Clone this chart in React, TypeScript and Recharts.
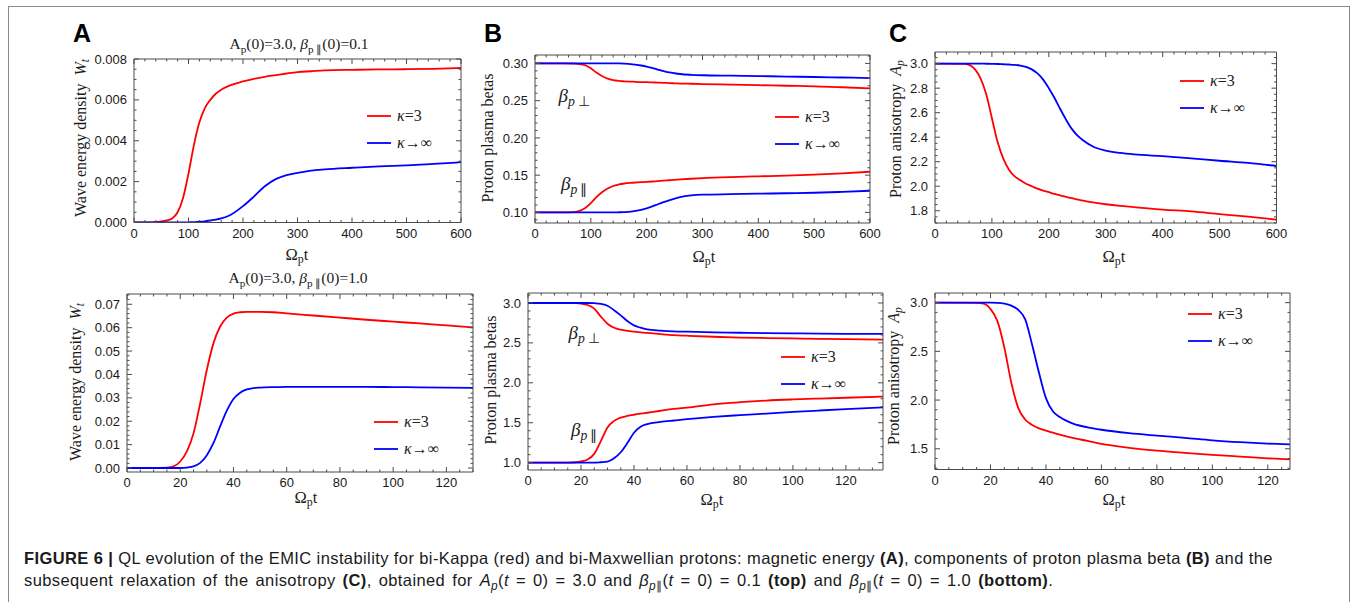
import React from 'react';
import { LineChart, Line, XAxis, YAxis, Legend } from 'recharts';

const RED = '#ff0000';
const BLUE = '#0000ff';
const FRAME = '#4a4a4a';
const SERIF = '"Liberation Serif","Times New Roman",serif';
const SANS = '"Liberation Sans",Arial,Helvetica,sans-serif';

// ---------- Panel A (top): wave energy density, beta_par(0)=0.1
const tA1 = [0, 40, 60, 70, 80, 90, 100, 110, 120, 130, 140, 150, 160, 175, 200, 220, 240, 260, 280, 300, 325, 350, 400, 450, 500, 550, 600];
const wKappaA1 = [0, 0.00002, 0.0001, 0.0002, 0.0005, 0.0012, 0.0024, 0.0038, 0.0049, 0.0056, 0.006, 0.0063, 0.0065, 0.0067, 0.0069, 0.00703, 0.00713, 0.00721, 0.00729, 0.00736, 0.0074, 0.00744, 0.00747, 0.00749, 0.0075, 0.00752, 0.00756];
const wMaxA1 = [0, 0, 0, 0, 0, 0, 0.00001, 0.00002, 0.00004, 0.00006, 0.0001, 0.00014, 0.0002, 0.00034, 0.0008, 0.00127, 0.00177, 0.00212, 0.00232, 0.00243, 0.00254, 0.0026, 0.00268, 0.00275, 0.0028, 0.00287, 0.00295];

// ---------- Panel B (top): proton plasma betas
const tB1 = [0, 50, 70, 80, 90, 100, 110, 120, 130, 140, 150, 160, 175, 190, 200, 210, 220, 230, 240, 250, 260, 280, 300, 350, 400, 450, 500, 550, 600];
const perpKappaB1 = [0.3, 0.3, 0.2998, 0.2992, 0.2975, 0.2935, 0.2878, 0.283, 0.2795, 0.2775, 0.2765, 0.276, 0.2755, 0.275, 0.2748, 0.2745, 0.2742, 0.274, 0.2736, 0.2733, 0.273, 0.2727, 0.2723, 0.2715, 0.2708, 0.27, 0.2693, 0.268, 0.2664];
const perpMaxB1 = [0.3, 0.3, 0.3, 0.3, 0.3, 0.3, 0.3, 0.3, 0.3, 0.3, 0.3, 0.2998, 0.2988, 0.2972, 0.2958, 0.294, 0.2918, 0.2897, 0.288, 0.2868, 0.2858, 0.2847, 0.2841, 0.2835, 0.283, 0.2824, 0.2818, 0.2811, 0.2803];
const parKappaB1 = [0.1, 0.1, 0.1005, 0.1022, 0.106, 0.1125, 0.1205, 0.127, 0.132, 0.1355, 0.1375, 0.1388, 0.1398, 0.1406, 0.141, 0.1415, 0.1421, 0.1426, 0.1432, 0.1438, 0.1443, 0.1452, 0.146, 0.1474, 0.1484, 0.1494, 0.1508, 0.1525, 0.1546];
const parMaxB1 = [0.1, 0.1, 0.1, 0.1, 0.1, 0.1, 0.1, 0.1, 0.1, 0.1, 0.1002, 0.1005, 0.1015, 0.1035, 0.1055, 0.108, 0.111, 0.1138, 0.1163, 0.1185, 0.1205, 0.1228, 0.1238, 0.1245, 0.1251, 0.1257, 0.1264, 0.1276, 0.1291];

// ---------- Panel C (top): proton anisotropy
const tC1 = [0, 50, 60, 70, 80, 90, 100, 110, 120, 130, 140, 150, 160, 170, 180, 190, 200, 210, 220, 230, 240, 250, 260, 280, 300, 325, 350, 400, 450, 500, 550, 600];
const aKappaC1 = [3.0, 2.998, 2.99, 2.955, 2.88, 2.75, 2.555, 2.36, 2.225, 2.135, 2.08, 2.048, 2.02, 2.0, 1.98, 1.965, 1.951, 1.937, 1.925, 1.913, 1.902, 1.892, 1.882, 1.866, 1.853, 1.84, 1.83, 1.809, 1.795, 1.773, 1.752, 1.727];
const aMaxC1 = [3.0, 3.0, 3.0, 3.0, 3.0, 2.999, 2.998, 2.997, 2.995, 2.993, 2.99, 2.984, 2.973, 2.953, 2.92, 2.87, 2.8, 2.72, 2.63, 2.545, 2.47, 2.415, 2.375, 2.318, 2.29, 2.272, 2.26, 2.245, 2.228, 2.208, 2.19, 2.165];

// ---------- Panel A (bottom): beta_par(0)=1.0
const tA2 = [0, 10, 15, 17.5, 20, 22.5, 25, 27.5, 30, 32.5, 35, 37.5, 40, 42.5, 45, 47.5, 50, 55, 60, 70, 80, 90, 100, 110, 120, 130];
const wKappaA2 = [0, 0, 0.0002, 0.0007, 0.0028, 0.0071, 0.0149, 0.0277, 0.042, 0.0534, 0.0605, 0.0643, 0.066, 0.0666, 0.0668, 0.0668, 0.0668, 0.0666, 0.0661, 0.0652, 0.0643, 0.0634, 0.0626, 0.0618, 0.061, 0.0601];
const wMaxA2 = [0, 0, 0, 0, 0, 0.0002, 0.0007, 0.0022, 0.0055, 0.0107, 0.0178, 0.0245, 0.0295, 0.0322, 0.0336, 0.0342, 0.0344, 0.0346, 0.0347, 0.0347, 0.0347, 0.0347, 0.0346, 0.0345, 0.0344, 0.0343];

// ---------- Panel B (bottom)
const tB2 = [0, 15, 18, 20, 22.5, 25, 27.5, 30, 32.5, 35, 37.5, 40, 42.5, 45, 50, 55, 60, 70, 80, 90, 100, 110, 120, 134];
const perpKappaB2 = [3.0, 3.0, 2.998, 2.993, 2.975, 2.93, 2.83, 2.74, 2.69, 2.665, 2.65, 2.64, 2.632, 2.625, 2.61, 2.597, 2.59, 2.577, 2.567, 2.561, 2.556, 2.551, 2.547, 2.541];
const perpMaxB2 = [3.0, 3.0, 3.0, 3.0, 3.0, 2.997, 2.99, 2.965, 2.91, 2.845, 2.775, 2.72, 2.69, 2.67, 2.655, 2.645, 2.64, 2.632, 2.627, 2.622, 2.619, 2.616, 2.614, 2.612];
const parKappaB2 = [1.0, 1.0, 1.005, 1.015, 1.04, 1.11, 1.27, 1.44, 1.523, 1.565, 1.585, 1.6, 1.613, 1.625, 1.65, 1.673, 1.69, 1.73, 1.757, 1.778, 1.792, 1.803, 1.813, 1.827];
const parMaxB2 = [1.0, 1.0, 1.0, 1.0, 1.0, 1.0, 1.005, 1.013, 1.055, 1.13, 1.245, 1.375, 1.45, 1.483, 1.51, 1.528, 1.545, 1.573, 1.595, 1.615, 1.635, 1.653, 1.67, 1.693];

// ---------- Panel C (bottom)
const tC2 = [0, 15, 17.5, 20, 22.5, 25, 27.5, 30, 32.5, 35, 37.5, 40, 42.5, 45, 50, 55, 60, 70, 80, 90, 100, 110, 120, 128];
const aKappaC2 = [3.0, 2.998, 2.99, 2.935, 2.81, 2.54, 2.18, 1.92, 1.8, 1.745, 1.71, 1.685, 1.665, 1.645, 1.61, 1.58, 1.55, 1.51, 1.48, 1.458, 1.438, 1.42, 1.402, 1.39];
const aMaxC2 = [3.0, 3.0, 3.0, 3.0, 2.998, 2.99, 2.97, 2.925, 2.83, 2.57, 2.28, 2.02, 1.885, 1.825, 1.755, 1.72, 1.695, 1.66, 1.635, 1.612, 1.586, 1.567, 1.553, 1.545];

// ---------- ticks
const xTicksTop = [0, 100, 200, 300, 400, 500, 600];
const xTicksBottom = [0, 20, 40, 60, 80, 100, 120];
const yTicksA1 = [0, 0.002, 0.004, 0.006, 0.008];
const yTicksA2 = [0, 0.01, 0.02, 0.03, 0.04, 0.05, 0.06, 0.07];
const yTicksB1 = [0.1, 0.15, 0.2, 0.25, 0.3];
const yTicksB2 = [1.0, 1.5, 2.0, 2.5, 3.0];
const yTicksC1 = [1.8, 2.0, 2.2, 2.4, 2.6, 2.8, 3.0];
const yTicksC2 = [1.5, 2.0, 2.5, 3.0];

const LEG_K3 = 'κ=3';
const LEG_KINF = 'κ→∞';

function minorTicks(domain: [number, number], step: number): number[] {
  const out: number[] = [];
  const start = Math.ceil(domain[0] / step - 1e-9);
  const end = Math.floor(domain[1] / step + 1e-9);
  for (let i = start; i <= end; i++) out.push(parseFloat((i * step).toFixed(10)));
  return out;
}
const isIn = (arr: number[], v: number) => arr.some((a) => Math.abs(a - v) < 1e-9);

const MAJ = 5;
const MIN = 2.5;
const TICK_FONT = 13;

const mkTick = (side: 'b' | 't' | 'l' | 'r', majors: number[], dec: number) => (props: any) => {
  const { x, y, payload } = props;
  const v = payload.value as number;
  const M = isIn(majors, v);
  const len = M ? MAJ : MIN;
  let line;
  let label = null;
  if (side === 'b') {
    line = <line x1={x} x2={x} y1={y} y2={y - len} stroke={FRAME} strokeWidth={1} />;
    if (M) label = <text x={x} y={y + 15} textAnchor="middle" fontSize={TICK_FONT} fontFamily={SANS} fill="#1a1a1a">{v.toFixed(dec)}</text>;
  } else if (side === 't') {
    line = <line x1={x} x2={x} y1={y} y2={y + len} stroke={FRAME} strokeWidth={1} />;
  } else if (side === 'l') {
    line = <line x1={x} x2={x + len} y1={y} y2={y} stroke={FRAME} strokeWidth={1} />;
    if (M) label = <text x={x - 7} y={y + 4.6} textAnchor="end" fontSize={TICK_FONT} fontFamily={SANS} fill="#1a1a1a">{v.toFixed(dec)}</text>;
  } else {
    line = <line x1={x} x2={x - len} y1={y} y2={y} stroke={FRAME} strokeWidth={1} />;
  }
  return <g>{line}{label}</g>;
};

const renderLegend = (props: any) => {
  const seen = new Set<string>();
  const items = (props.payload || []).filter((e: any) => {
    if (seen.has(e.value)) return false;
    seen.add(e.value);
    return true;
  });
  return (
    <div>
      {items.map((e: any) => (
        <div key={e.value} style={{ display: 'flex', alignItems: 'center', height: 27 }}>
          <svg width={24} height={4} style={{ display: 'block' }}>
            <line x1={0} x2={24} y1={2} y2={2} stroke={e.color} strokeWidth={1.8} />
          </svg>
          <span style={{ marginLeft: 6, fontFamily: SERIF, fontSize: 16, color: '#222', lineHeight: 1 }}>
            <i>{String(e.value).charAt(0)}</i>
            {String(e.value).slice(1)}
          </span>
        </div>
      ))}
    </div>
  );
};

interface SeriesDef {
  key: string;
  name: string;
  color: string;
  values: number[];
  inLegend: boolean;
}
interface PanelProps {
  plot: { x: number; y: number; w: number; h: number };
  t: number[];
  series: SeriesDef[];
  xDomain: [number, number];
  yDomain: [number, number];
  xTicks: number[];
  xMinorStep: number;
  yTicks: number[];
  yMinorStep: number;
  yDec: number;
  legend: { x: number; y: number };
}

const PAD = { l: 64, r: 14, t: 10, b: 28 };

function Panel(p: PanelProps) {
  const data = p.t.map((tv, i) => {
    const row: any = { t: tv };
    p.series.forEach((s) => {
      row[s.key] = s.values[i];
    });
    return row;
  });
  const left = p.plot.x - PAD.l;
  const top = p.plot.y - PAD.t;
  const W = p.plot.w + PAD.l + PAD.r;
  const H = p.plot.h + PAD.t + PAD.b;
  const xAll = minorTicks(p.xDomain, p.xMinorStep);
  const yAll = minorTicks(p.yDomain, p.yMinorStep);
  return (
    <div style={{ position: 'absolute', left, top }}>
      <LineChart width={W} height={H} data={data} margin={{ left: PAD.l - 1, right: PAD.r - 1, top: PAD.t - 1, bottom: PAD.b - 1 }}>
        <XAxis xAxisId="b" dataKey="t" type="number" domain={p.xDomain} allowDataOverflow ticks={xAll} interval={0} height={1} tickSize={0} tickMargin={0} tickLine={false} axisLine={{ stroke: FRAME }} tick={mkTick('b', p.xTicks, 0)} />
        <XAxis xAxisId="t" orientation="top" dataKey="t" type="number" domain={p.xDomain} allowDataOverflow ticks={xAll} interval={0} height={1} tickSize={0} tickMargin={0} tickLine={false} axisLine={{ stroke: FRAME }} tick={mkTick('t', p.xTicks, 0)} />
        <YAxis yAxisId="l" type="number" domain={p.yDomain} allowDataOverflow ticks={yAll} interval={0} width={1} tickSize={0} tickMargin={0} tickLine={false} axisLine={{ stroke: FRAME }} tick={mkTick('l', p.yTicks, p.yDec)} />
        <YAxis yAxisId="r" orientation="right" type="number" domain={p.yDomain} allowDataOverflow ticks={yAll} interval={0} width={1} tickSize={0} tickMargin={0} tickLine={false} axisLine={{ stroke: FRAME }} tick={mkTick('r', p.yTicks, p.yDec)} />
        {p.series.map((s) => (
          <Line key={s.key} xAxisId="b" yAxisId="l" dataKey={s.key} name={s.name} type="monotone" stroke={s.color} strokeWidth={1.8} dot={false} activeDot={false} isAnimationActive={false} legendType={s.inLegend ? 'plainline' : 'none'} />
        ))}
        <Legend layout="vertical" align="center" verticalAlign="middle" content={renderLegend} wrapperStyle={{ left: p.legend.x - left, top: p.legend.y - 13.5 - top, width: 'auto', height: 'auto' }} />
      </LineChart>
    </div>
  );
}

const Txt = ({ x, y, size = 15, children, style }: any) => (
  <div style={{ position: 'absolute', left: x, top: y, transform: 'translate(-50%, -50%)', whiteSpace: 'nowrap', fontFamily: SERIF, fontSize: size, lineHeight: 1, color: '#1a1a1a', ...style }}>
    {children}
  </div>
);
const VTxt = ({ x, y, size = 16, children }: any) => (
  <div style={{ position: 'absolute', left: x, top: y, transform: 'translate(-50%, -50%) rotate(-90deg)', whiteSpace: 'nowrap', fontFamily: SERIF, fontSize: size, lineHeight: 1, color: '#1a1a1a' }}>
    {children}
  </div>
);
const Sub = ({ children }: any) => <sub style={{ fontSize: '0.72em', verticalAlign: '-0.3em', lineHeight: 0 }}>{children}</sub>;
const Letter = ({ x, y, children }: any) => (
  <Txt x={x} y={y} size={25} style={{ fontFamily: SANS, fontWeight: 'bold', color: '#000' }}>{children}</Txt>
);

const XLabel = () => (
  <span>
    Ω<Sub>p</Sub>t
  </span>
);

export default function App() {
  const k = (values: number[]): SeriesDef => ({ key: 'k', name: LEG_K3, color: RED, values, inLegend: true });
  const m = (values: number[]): SeriesDef => ({ key: 'm', name: LEG_KINF, color: BLUE, values, inLegend: true });
  return (
    <div style={{ position: 'fixed', left: 0, top: 0, width: 1354, height: 602, overflow: 'hidden', background: '#fff' }}>
      <div style={{ position: 'absolute', left: 8, top: 6, width: 1340, height: 640, border: '1px solid #8a8a8a' }} />

      <Letter x={82} y={33}>A</Letter>
      <Letter x={493} y={33}>B</Letter>
      <Letter x={898} y={33}>C</Letter>

      <Txt x={299} y={44} size={15.5}>A<Sub>p</Sub>(0)=3.0, <i>β</i><Sub>p ∥</Sub>(0)=0.1</Txt>
      <Txt x={298} y={278} size={15.5}>A<Sub>p</Sub>(0)=3.0, <i>β</i><Sub>p ∥</Sub>(0)=1.0</Txt>

      {/* top row */}
      <Panel plot={{ x: 133.5, y: 59, w: 327, h: 163.5 }} t={tA1} series={[k(wKappaA1), m(wMaxA1)]} xDomain={[0, 600]} yDomain={[0, 0.008]} xTicks={xTicksTop} xMinorStep={20} yTicks={yTicksA1} yMinorStep={0.0005} yDec={3} legend={{ x: 367, y: 116 }} />
      <Panel plot={{ x: 535, y: 54.5, w: 335, h: 168 }} t={tB1}
        series={[
          { key: 'kp', name: LEG_K3, color: RED, values: perpKappaB1, inLegend: true },
          { key: 'mp', name: LEG_KINF, color: BLUE, values: perpMaxB1, inLegend: true },
          { key: 'kl', name: LEG_K3, color: RED, values: parKappaB1, inLegend: false },
          { key: 'ml', name: LEG_KINF, color: BLUE, values: parMaxB1, inLegend: false },
        ]}
        xDomain={[0, 600]} yDomain={[0.0858, 0.3113]} xTicks={xTicksTop} xMinorStep={20} yTicks={yTicksB1} yMinorStep={0.01} yDec={2} legend={{ x: 775, y: 117 }} />
      <Panel plot={{ x: 934.5, y: 51.5, w: 341.5, h: 171 }} t={tC1} series={[k(aKappaC1), m(aMaxC1)]} xDomain={[0, 600]} yDomain={[1.7, 3.095]} xTicks={xTicksTop} xMinorStep={20} yTicks={yTicksC1} yMinorStep={0.05} yDec={1} legend={{ x: 1180, y: 81 }} />

      {/* bottom row */}
      <Panel plot={{ x: 127, y: 294, w: 346, h: 178 }} t={tA2} series={[k(wKappaA2), m(wMaxA2)]} xDomain={[0, 130]} yDomain={[-0.0017, 0.0744]} xTicks={xTicksBottom} xMinorStep={5} yTicks={yTicksA2} yMinorStep={0.002} yDec={2} legend={{ x: 374, y: 422 }} />
      <Panel plot={{ x: 527.5, y: 292.5, w: 355, h: 177 }} t={tB2}
        series={[
          { key: 'kp', name: LEG_K3, color: RED, values: perpKappaB2, inLegend: true },
          { key: 'mp', name: LEG_KINF, color: BLUE, values: perpMaxB2, inLegend: true },
          { key: 'kl', name: LEG_K3, color: RED, values: parKappaB2, inLegend: false },
          { key: 'ml', name: LEG_KINF, color: BLUE, values: parMaxB2, inLegend: false },
        ]}
        xDomain={[0, 134]} yDomain={[0.908, 3.125]} xTicks={xTicksBottom} xMinorStep={5} yTicks={yTicksB2} yMinorStep={0.1} yDec={1} legend={{ x: 781, y: 357 }} />
      <Panel plot={{ x: 935, y: 292.5, w: 355, h: 176.5 }} t={tC2} series={[k(aKappaC2), m(aMaxC2)]} xDomain={[0, 128]} yDomain={[1.287, 3.099]} xTicks={xTicksBottom} xMinorStep={5} yTicks={yTicksC2} yMinorStep={0.1} yDec={1} legend={{ x: 1188, y: 314 }} />

      {/* beta labels */}
      <Txt x={574} y={95} size={19}><i>β</i><Sub><i>p</i>&#8201;⊥</Sub></Txt>
      <Txt x={574} y={183} size={19}><i>β</i><Sub><i>p</i>&#8201;∥</Sub></Txt>
      <Txt x={584} y={332} size={19}><i>β</i><Sub><i>p</i>&#8201;⊥</Sub></Txt>
      <Txt x={584} y={429} size={19}><i>β</i><Sub><i>p</i>&#8201;∥</Sub></Txt>

      {/* y-axis titles */}
      <VTxt x={81} y={138}>Wave energy density&nbsp;&nbsp;<i>W<Sub>t</Sub></i></VTxt>
      <VTxt x={488} y={138}>Proton plasma betas</VTxt>
      <VTxt x={896} y={129}>Proton anisotropy&nbsp;&nbsp;<i>A<Sub>p</Sub></i></VTxt>
      <VTxt x={76} y={382}>Wave energy density&nbsp;&nbsp;<i>W<Sub>t</Sub></i></VTxt>
      <VTxt x={491} y={380}>Proton plasma betas</VTxt>
      <VTxt x={894} y={376}>Proton anisotropy&nbsp;&nbsp;<i>A<Sub>p</Sub></i></VTxt>

      {/* x-axis titles */}
      <Txt x={297} y={255} size={16.5}><XLabel /></Txt>
      <Txt x={704} y={257} size={16.5}><XLabel /></Txt>
      <Txt x={1114} y={257} size={16.5}><XLabel /></Txt>
      <Txt x={306} y={498} size={16.5}><XLabel /></Txt>
      <Txt x={712} y={500} size={16.5}><XLabel /></Txt>
      <Txt x={1114} y={500} size={16.5}><XLabel /></Txt>

      {/* caption */}
      <div style={{ position: 'absolute', left: 24, top: 547, fontFamily: SANS, fontSize: 16.5, lineHeight: '22px', color: '#1a1a1a', whiteSpace: 'nowrap', letterSpacing: '0.4px' }}>
        <div>
          <b>FIGURE 6 |</b> QL evolution of the EMIC instability for bi-Kappa (red) and bi-Maxwellian protons: magnetic energy <b>(A)</b>, components of proton plasma beta <b>(B)</b> and the
        </div>
        <div style={{ wordSpacing: '2px' }}>
          subsequent relaxation of the anisotropy <b>(C)</b>, obtained for <i>A</i><Sub><i>p</i></Sub>(<i>t</i> = 0) = 3.0 and <i>β</i><Sub><i>p</i>∥</Sub>(<i>t</i> = 0) = 0.1 <b>(top)</b> and <i>β</i><Sub><i>p</i>∥</Sub>(<i>t</i> = 0) = 1.0 <b>(bottom)</b>.
        </div>
      </div>
    </div>
  );
}
